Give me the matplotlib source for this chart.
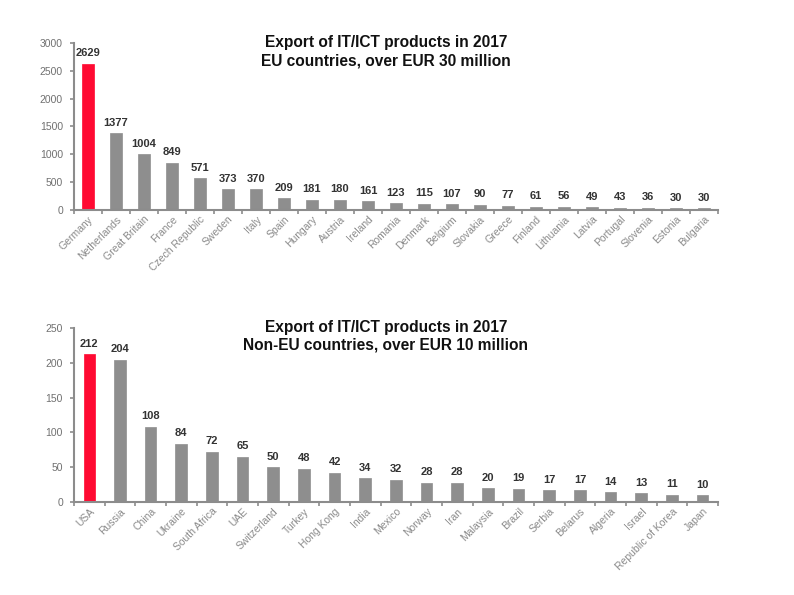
import matplotlib
matplotlib.use("Agg")
import matplotlib.pyplot as plt
import numpy as np

plt.rcParams['font.family'] = ['Liberation Sans', 'DejaVu Sans']

eu_countries = ["Germany", "Netherlands", "Great Britain", "France", "Czech Republic",
                "Sweden", "Italy", "Spain", "Hungary", "Austria", "Ireland", "Romania",
                "Denmark", "Belgium", "Slovakia", "Greece", "Finland", "Lithuania",
                "Latvia", "Portugal", "Slovenia", "Estonia", "Bulgaria"]
eu_values = [2629, 1377, 1004, 849, 571, 373, 370, 209, 181, 180, 161, 123,
             115, 107, 90, 77, 61, 56, 49, 43, 36, 30, 30]

noneu_countries = ["USA", "Russia", "China", "Ukraine", "South Africa", "UAE",
                   "Switzerland", "Turkey", "Hong Kong", "India", "Mexico", "Norway",
                   "Iran", "Malaysia", "Brazil", "Serbia", "Belarus", "Algeria",
                   "Israel", "Republic of Korea", "Japan"]
noneu_values = [212, 204, 108, 84, 72, 65, 50, 48, 42, 34, 32, 28, 28, 20, 19,
                17, 17, 14, 13, 11, 10]

RED = "#FF0A32"
GRAY = "#8E8E8E"
AXIS = "#8C8C8C"
TEXT = "#333333"


def draw(ax, names, values, ymax, ystep, width):
    x = np.arange(len(names))
    colors = [RED] + [GRAY] * (len(names) - 1)
    ax.bar(x, values, width=width, color=colors, edgecolor=colors, linewidth=0.5, zorder=2)
    for xi, v in zip(x, values):
        ax.annotate(str(v), (xi, v), xytext=(0, 4), textcoords="offset points",
                    ha="center", va="bottom", fontsize=8, fontweight="bold", color=TEXT)
    ax.set_xlim(-0.5, len(names) - 0.5)
    ax.set_ylim(0, ymax)
    ax.set_yticks(np.arange(0, ymax + 1, ystep))
    ax.set_xticks(x)
    ax.set_xticklabels(names, rotation=45, ha="right", rotation_mode="anchor",
                       fontsize=7.5, color="#8a8a8a")
    ax.set_xticks(np.arange(-0.5, len(names), 1), minor=True)
    ax.tick_params(axis="x", which="major", length=0, pad=3)
    ax.tick_params(axis="x", which="minor", length=3, width=1.2, color=AXIS, direction="out")
    ax.tick_params(axis="y", length=3, width=1.2, color=AXIS, labelsize=7.5,
                   labelcolor="#707070", pad=5)
    for s in ["top", "right"]:
        ax.spines[s].set_visible(False)
    for s in ["left", "bottom"]:
        ax.spines[s].set_color(AXIS)
        ax.spines[s].set_linewidth(1.5)


fig = plt.figure(figsize=(7.94, 5.95), dpi=100)
ax1 = fig.add_axes([0.0932, 0.647, 0.811, 0.281])
draw(ax1, eu_countries, eu_values, 3000, 500, 0.45)
ax2 = fig.add_axes([0.0932, 0.156, 0.811, 0.293])
draw(ax2, noneu_countries, noneu_values, 250, 50, 0.38)

fig.text(0.486, 1 - 35 / 595, "Export of IT/ICT products in 2017\nEU countries, over EUR 30 million",
         ha="center", va="top", fontsize=11.2, fontweight="bold", linespacing=1.25, color="#111111")
fig.text(0.486, 1 - 320 / 595, "Export of IT/ICT products in 2017\nNon-EU countries, over EUR 10 million",
         ha="center", va="top", fontsize=11.2, fontweight="bold", linespacing=1.25, color="#111111")

fig.savefig("out.png", dpi=100)
